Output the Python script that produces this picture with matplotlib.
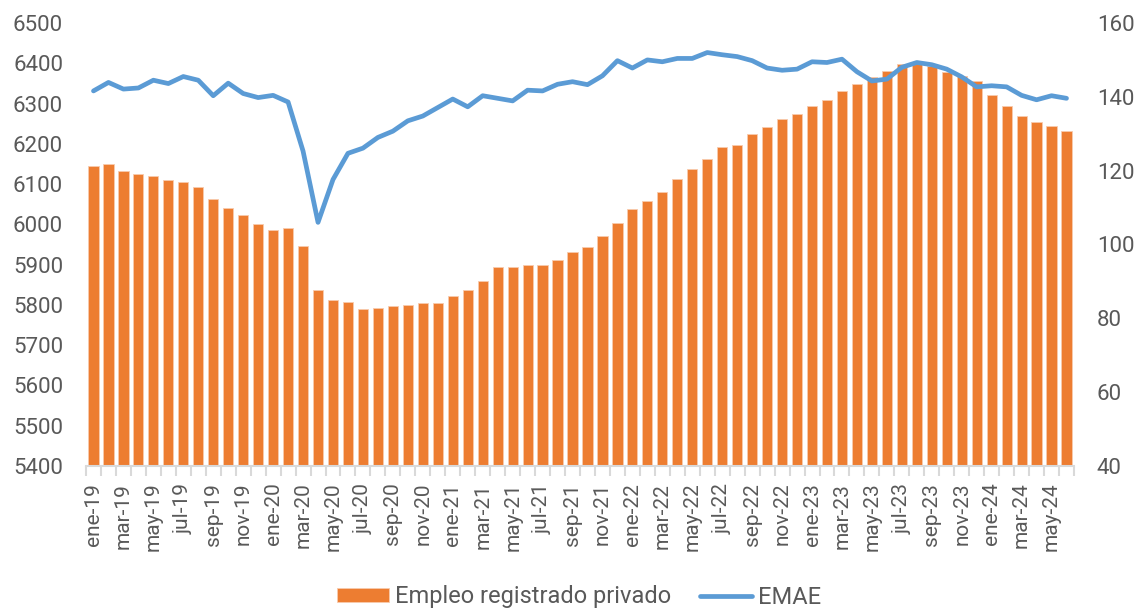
import matplotlib
matplotlib.use("Agg")
import matplotlib.pyplot as plt
import numpy as np

plt.rcParams['font.family'] = ['Roboto', 'DejaVu Sans']

# meses ene-19 .. jun-24
meses_abrev = ["ene", "feb", "mar", "abr", "may", "jun",
               "jul", "ago", "sep", "oct", "nov", "dic"]
meses = [f"{m}-{a}" for a in range(19, 25) for m in meses_abrev][:66]

# Empleo registrado privado (miles)
empleo = [6144, 6149, 6132, 6125, 6119, 6110, 6104, 6093, 6064, 6041, 6023, 6000,
          5987, 5990, 5946, 5837, 5812, 5806, 5790, 5793, 5798, 5799, 5804, 5804,
          5822, 5836, 5859, 5893, 5893, 5899, 5899, 5911, 5931, 5945, 5971, 6004,
          6037, 6057, 6081, 6113, 6137, 6162, 6192, 6198, 6224, 6243, 6262, 6274,
          6294, 6309, 6332, 6349, 6366, 6381, 6398, 6400, 6392, 6379, 6369, 6357,
          6320, 6294, 6270, 6253, 6245, 6232]

# EMAE
emae = [141.6, 143.9, 142.1, 142.4, 144.5, 143.6, 145.5, 144.5, 140.3, 143.7, 140.9, 139.8,
        140.4, 138.6, 125.3, 106.0, 117.6, 124.7, 126.1, 129.0, 130.7, 133.5, 134.8, 137.1,
        139.4, 137.3, 140.3, 139.6, 138.9, 141.8, 141.6, 143.4, 144.1, 143.3, 145.7, 149.8,
        147.8, 150.0, 149.5, 150.4, 150.4, 152.0, 151.4, 150.9, 149.8, 147.8, 147.2, 147.5,
        149.5, 149.3, 150.2, 146.8, 144.3, 144.8, 148.0, 149.3, 148.7, 147.5, 145.4, 142.7,
        143.0, 142.7, 140.4, 139.2, 140.3, 139.6]

naranja = "#ED7D31"
azul = "#5B9BD5"
gris = "#595959"

fig = plt.figure(figsize=(11.39, 6.09), dpi=100)
ax = fig.add_axes([86 / 1139, 1 - 466 / 609, (1074 - 86) / 1139, (466 - 23) / 609])
ax2 = ax.twinx()

x = np.arange(len(meses))
barras = ax.bar(x, empleo, width=0.68, color=naranja, edgecolor="#F8CBAD",
                linewidth=0.6, label="Empleo registrado privado", zorder=2)
linea, = ax2.plot(x, emae, color=azul, linewidth=3.4, solid_capstyle="round",
                  solid_joinstyle="round", label="EMAE", zorder=3)

ax.set_xlim(-0.5, len(meses) - 0.5)
ax.set_ylim(5400, 6500)
ax.set_yticks(np.arange(5400, 6501, 100))
ax2.set_ylim(40, 160)
ax2.set_yticks(np.arange(40, 161, 20))

for a in (ax, ax2):
    for s in ("top", "left", "right", "bottom"):
        a.spines[s].set_visible(False)
ax.spines["bottom"].set_visible(True)
ax.spines["bottom"].set_color("#D9D9D9")
ax.spines["bottom"].set_linewidth(1.5)

ax.set_xticks(x[::2])
ax.set_xticklabels(meses[::2], rotation=90, fontsize=15, color=gris)
ax.set_xticks(np.arange(-0.5, len(meses), 1), minor=True)
ax.tick_params(axis="x", which="major", length=0, pad=12)
ax.tick_params(axis="x", which="minor", length=7, width=1.5, color="#D9D9D9")
ax.tick_params(axis="y", length=0, labelsize=16, labelcolor=gris, pad=16.5)
ax2.tick_params(axis="y", length=0, labelsize=16, labelcolor=gris, pad=16.5)

fig.legend([barras, linea], ["Empleo registrado privado", "EMAE"],
           loc="center", bbox_to_anchor=(579 / 1139, 1 - 597 / 609), ncol=2,
           frameon=False, fontsize=17, labelcolor=gris, handlelength=2.2,
           handleheight=0.55, handletextpad=0.25, columnspacing=1.2)

fig.savefig("out.png", dpi=100)
